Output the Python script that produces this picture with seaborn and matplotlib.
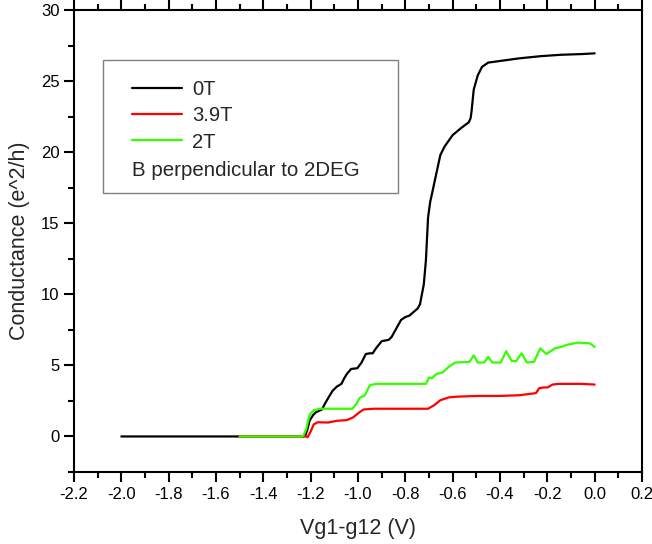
import matplotlib
matplotlib.use("Agg")
import matplotlib.pyplot as plt
import numpy as np
import pandas as pd
import seaborn as sns
from matplotlib.lines import Line2D
from matplotlib.patches import Rectangle
from matplotlib.ticker import MultipleLocator

# 0T trace
vg_0t = [-2.0, -1.5, -1.23, -1.222, -1.212, -1.205, -1.19, -1.178, -1.152, -1.14, -1.126,
         -1.108, -1.09, -1.07, -1.058, -1.047, -1.029, -1.003, -0.985, -0.967, -0.95,
         -0.938, -0.924, -0.9, -0.87, -0.858, -0.848, -0.818, -0.8, -0.783, -0.748,
         -0.738, -0.73, -0.722, -0.713, -0.704, -0.695, -0.687, -0.669, -0.652, -0.634,
         -0.6, -0.564, -0.532, -0.524, -0.52, -0.511, -0.494, -0.476, -0.45, -0.406,
         -0.318, -0.23, -0.143, -0.055, 0.0]
g_0t = [0.0, 0.0, 0.0, 0.1, 0.6, 1.1, 1.5, 1.7, 1.9, 2.3, 2.7,
        3.2, 3.5, 3.7, 4.1, 4.4, 4.75, 4.8, 5.2, 5.8, 5.85,
        5.85, 6.2, 6.7, 6.8, 7.0, 7.3, 8.2, 8.4, 8.5, 9.0,
        9.3, 10.0, 10.7, 12.4, 15.4, 16.5, 17.1, 18.5, 19.8, 20.4,
        21.2, 21.7, 22.1, 22.4, 22.9, 24.4, 25.4, 26.0, 26.3, 26.4,
        26.6, 26.75, 26.85, 26.9, 26.95]

# 3.9T trace
vg_39t = [-1.5, -1.22, -1.213, -1.2, -1.187, -1.17, -1.126, -1.09, -1.047, -1.02, -0.994,
          -0.976, -0.932, -0.845, -0.757, -0.704, -0.678, -0.652, -0.616, -0.581, -0.494,
          -0.406, -0.318, -0.248, -0.234, -0.213, -0.199, -0.178, -0.152, -0.055, 0.0]
g_39t = [0.0, 0.0, -0.05, 0.35, 0.85, 1.0, 0.98, 1.1, 1.15, 1.35, 1.7,
         1.9, 1.95, 1.95, 1.95, 1.95, 2.2, 2.55, 2.75, 2.8, 2.85,
         2.85, 2.9, 3.05, 3.4, 3.45, 3.45, 3.65, 3.7, 3.7, 3.65]

# 2T trace
vg_2t = [-1.5, -1.24, -1.231, -1.219, -1.205, -1.187, -1.16, -1.108, -1.024, -1.006, -0.994,
         -0.971, -0.95, -0.924, -0.845, -0.757, -0.713, -0.7, -0.687, -0.669, -0.643,
         -0.616, -0.59, -0.529, -0.511, -0.494, -0.467, -0.45, -0.432, -0.397, -0.374,
         -0.35, -0.332, -0.309, -0.286, -0.256, -0.23, -0.204, -0.168, -0.143, -0.117,
         -0.072, -0.02, 0.0]
g_2t = [0.0, 0.0, 0.05, 0.5, 1.5, 1.85, 1.95, 1.95, 1.95, 2.3, 2.7,
        2.9, 3.6, 3.7, 3.7, 3.7, 3.7, 4.15, 4.1, 4.4, 4.5,
        4.9, 5.2, 5.25, 5.7, 5.2, 5.2, 5.6, 5.2, 5.2, 6.0,
        5.3, 5.3, 5.85, 5.2, 5.25, 6.2, 5.8, 6.2, 6.3, 6.45,
        6.6, 6.55, 6.3]

labels = ["0T", "3.9T", "2T"]
colors = ["#000000", "#ff0000", "#33ff00"]
note = "B perpendicular to 2DEG"

sns.set_style("ticks")
plt.rcParams["font.family"] = ["Liberation Sans", "DejaVu Sans"]

fig = plt.figure(figsize=(6.52, 5.44), dpi=100)
ax = fig.add_axes([74 / 652, 72 / 544, 568 / 652, 462 / 544])

traces = [(vg_0t, g_0t), (vg_39t, g_39t), (vg_2t, g_2t)]
for (vx, gy), lab, col in zip(traces, labels, colors):
    df = pd.DataFrame({"Vg": vx, "G": gy})
    sns.lineplot(data=df, x="Vg", y="G", color=col, linewidth=1.6, ax=ax,
                 sort=False, estimator=None, legend=False)

ax.set_xlim(-2.2, 0.2)
ax.set_ylim(-2.5, 30)
ax.xaxis.set_major_locator(MultipleLocator(0.2))
ax.xaxis.set_minor_locator(MultipleLocator(0.1))
ax.yaxis.set_major_locator(MultipleLocator(5))
ax.yaxis.set_minor_locator(MultipleLocator(2.5))
ax.set_xticklabels([f"{v:.1f}" for v in ax.get_xticks()])
ax.tick_params(which="both", direction="out", top=True, right=False, width=1.5,
               labelsize=12, color="black", labelcolor="black")
ax.tick_params(which="major", length=7)
ax.tick_params(which="minor", length=4)
for side in ["left", "right", "top", "bottom"]:
    ax.spines[side].set_visible(True)
    ax.spines[side].set_linewidth(1.5)
    ax.spines[side].set_color("black")

ax.set_xlabel("Vg1-g12 (V)", fontsize=15.5, labelpad=12)
ax.set_ylabel("Conductance (e^2/h)", fontsize=15.5, labelpad=8)

# legend box
box = Rectangle((29 / 568, 1 - 183 / 462), 295 / 568, 133 / 462, transform=ax.transAxes,
                facecolor="white", edgecolor="#808080", linewidth=1.0, zorder=3)
ax.add_patch(box)
handles = [Line2D([], [], color=c, linewidth=1.6) for c in colors]
leg = ax.legend(handles, labels, loc="upper left", bbox_to_anchor=(58 / 568, 1 - 70 / 462),
                frameon=False, fontsize=14.5, handlelength=2.5, handletextpad=0.5,
                labelspacing=0.36, borderpad=0, borderaxespad=0)
leg.set_zorder(4)
ax.text(58 / 568, 1 - 161 / 462, note, transform=ax.transAxes, fontsize=14.8,
        va="center", ha="left", zorder=5)

fig.savefig("out.png", dpi=100)
